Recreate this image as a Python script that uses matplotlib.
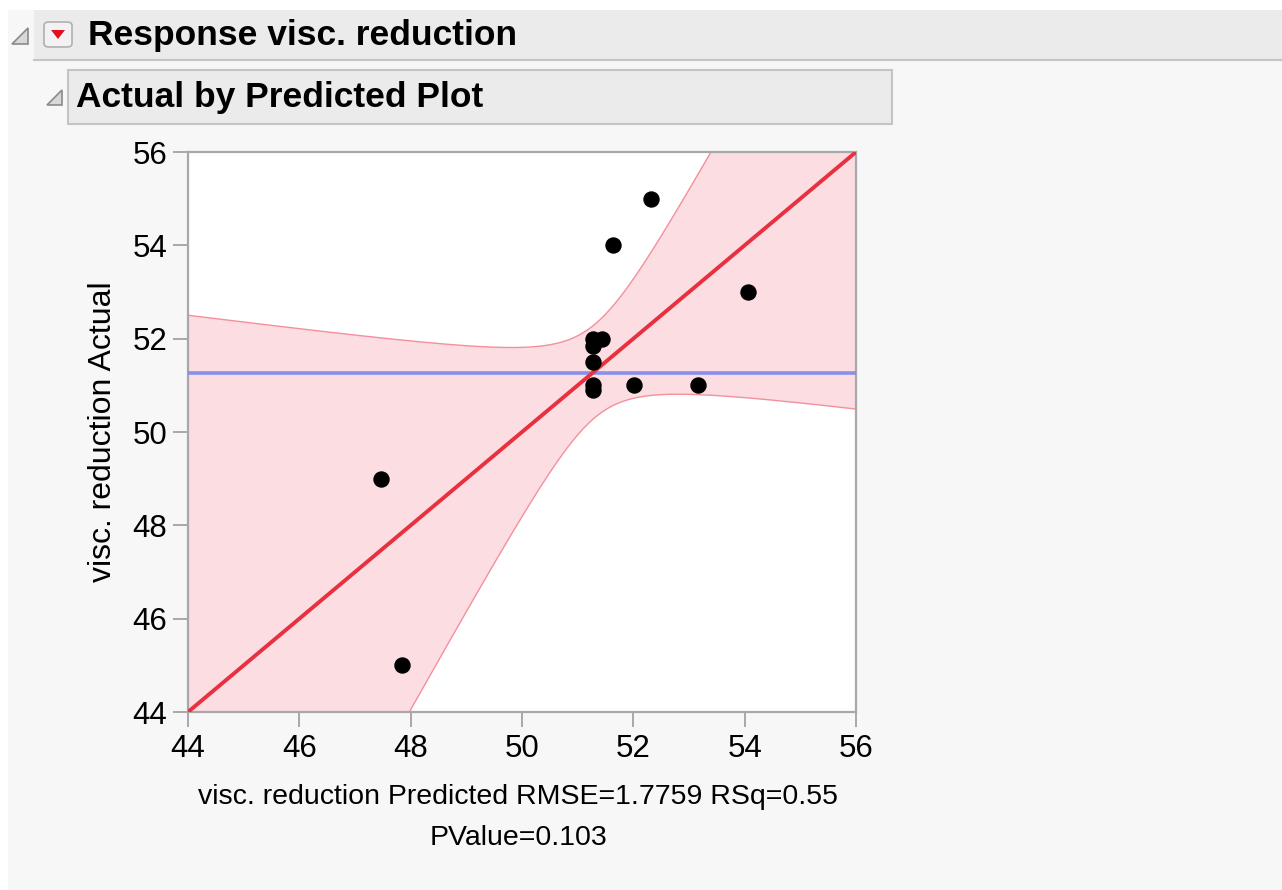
import matplotlib.pyplot as plt
from matplotlib.patches import Rectangle, Polygon, FancyBboxPatch
import numpy as np

# visc. reduction: predicted vs actual
predicted = [52.32, 51.63, 54.06, 51.27, 51.44, 51.27, 51.27, 51.27, 51.27, 52.01, 53.16, 47.47, 47.84]
actual = [55.0, 54.0, 53.0, 52.0, 52.0, 51.85, 51.5, 51.0, 50.9, 51.0, 51.0, 49.0, 45.0]
mean_actual = 51.27

# confidence curve parameters for the fit
band_center = 51.31
band_min_var = 1.0
band_spread = 1.334

ticks = [44, 46, 48, 50, 52, 54, 56]
stats_line1 = "visc. reduction Predicted RMSE=1.7759 RSq=0.55"
stats_line2 = "PValue=0.103"

W, H = 1282, 890
fig = plt.figure(figsize=(W / 100, H / 100), dpi=100, facecolor="white")
FONT = ["Liberation Sans Narrow", "Liberation Sans", "DejaVu Sans"]


def px(x, y):
    return x / W, 1 - y / H


def box(x0, y0, x1, y1, **kw):
    fx, fy = px(x0, y1)
    r = Rectangle((fx, fy), (x1 - x0) / W, (y1 - y0) / H, transform=fig.transFigure, zorder=-10, **kw)
    fig.patches.append(r)


# report background
box(8, 10, W, H, facecolor="#f7f7f7", edgecolor="none")

# outline headers
box(34, 10, W, 60, facecolor="#ebebeb", edgecolor="none")
fig.add_artist(plt.Line2D([34 / W, 1], [1 - 60 / H] * 2, color="#c4c4c4", lw=1.5, zorder=-5))
box(68, 70, 892, 124, facecolor="#ebebeb", edgecolor="#c4c4c4", lw=1.5)

# disclosure triangles
for (cx, cy, s) in [(20, 36, 16), (54, 97, 15)]:
    pts = [px(cx - s / 2, cy + s / 2), px(cx + s / 2, cy + s / 2), px(cx + s / 2, cy - s / 2)]
    fig.patches.append(Polygon(pts, closed=True, transform=fig.transFigure,
                               facecolor="#d8d8d8", edgecolor="#8a8a8a", lw=1.2, zorder=-5))

# red popup button
bx, by = px(44, 47)
fig.patches.append(FancyBboxPatch((bx, by), 28 / W, 25 / H, boxstyle="round,pad=0,rounding_size=0.004",
                                  transform=fig.transFigure, facecolor="#f2f2f2", edgecolor="#b0b0b0",
                                  lw=1.2, zorder=-5))
fig.patches.append(Polygon([px(51, 30), px(65, 30), px(58, 39)], closed=True, transform=fig.transFigure,
                           facecolor="#e0101c", edgecolor="none", zorder=-4))

fig.text(88 / W, 1 - 35 / H, "Response visc. reduction", fontsize=25.5, fontweight="bold",
         family=FONT, va="center", ha="left")
fig.text(76 / W, 1 - 97 / H, "Actual by Predicted Plot", fontsize=25.5, fontweight="bold",
         family=FONT, va="center", ha="left")

# plot frame
ax = fig.add_axes([188 / W, 1 - 712 / H, (856 - 188) / W, (712 - 152) / H])
ax.set_facecolor("white")
ax.set_xlim(44, 56)
ax.set_ylim(44, 56)

xs = np.linspace(44, 56, 400)
half = np.sqrt(band_min_var + band_spread * (xs - band_center) ** 2)
ax.fill_between(xs, xs - half, xs + half, color="#fbdde2", lw=0, zorder=1)
ax.plot(xs, xs + half, color="#f4909c", lw=1.0, zorder=2)
ax.plot(xs, xs - half, color="#f4909c", lw=1.0, zorder=2)

ax.axhline(mean_actual, color="#7c88ee", lw=2.6, alpha=0.9, zorder=3)
ax.plot([44, 56], [44, 56], color="#e8303e", lw=2.8, zorder=4)
ax.plot(predicted, actual, "o", color="black", ms=10.8, zorder=5)

for s in ax.spines.values():
    s.set_color("#a8a8a8")
    s.set_linewidth(1.6)
ax.set_xticks(ticks)
ax.set_yticks(ticks)
ax.tick_params(direction="out", length=11, width=1.4, color="#a8a8a8", labelsize=22.5, pad=5)
ax.tick_params(axis="y", pad=4)
for lab in ax.get_xticklabels() + ax.get_yticklabels():
    lab.set_family(FONT)

ax.set_ylabel("visc. reduction Actual", fontsize=23, family=FONT, labelpad=10)
fig.text(518 / W, 1 - 797 / H, stats_line1, fontsize=20.5, family=FONT, ha="center", va="center")
fig.text(518 / W, 1 - 838 / H, stats_line2, fontsize=20.5, family=FONT, ha="center", va="center")

fig.savefig("out.png", dpi=100, facecolor=fig.get_facecolor())
